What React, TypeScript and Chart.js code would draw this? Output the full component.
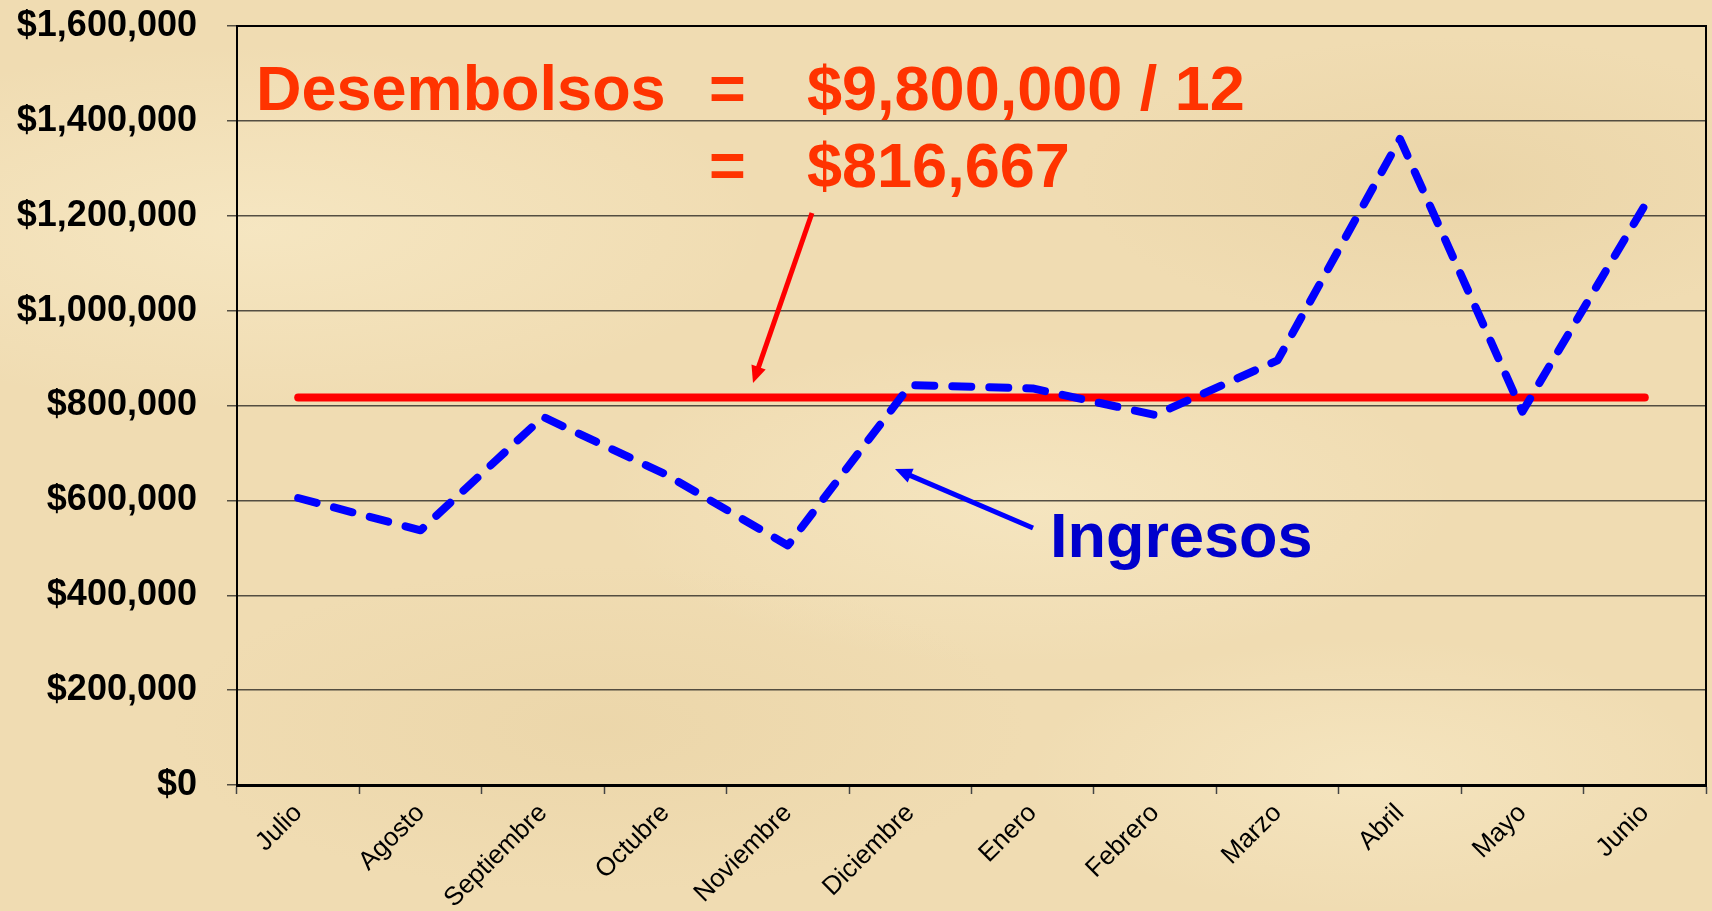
import React, { useEffect, useRef } from "react";
import { Chart, registerables } from "chart.js";

Chart.register(...registerables);

const MONTHS = [
  "Julio", "Agosto", "Septiembre", "Octubre", "Noviembre", "Diciembre",
  "Enero", "Febrero", "Marzo", "Abril", "Mayo", "Junio",
];
const INGRESOS = [
  605000, 537000, 776000, 655000, 505000, 843000,
  836000, 780000, 895000, 1362000, 787000, 1222000,
];
const DESEMBOLSOS = [
  816667, 816667, 816667, 816667, 816667, 816667,
  816667, 816667, 816667, 816667, 816667, 816667,
];
const Y_MIN = 0;
const Y_MAX = 1600000;
const Y_STEP = 200000;

const FONT = "'Liberation Sans', Arial, Helvetica, sans-serif";

const framePlugin = {
  id: "frame",
  beforeDatasetsDraw(chart: any) {
    const { ctx, chartArea } = chart;
    ctx.save();
    ctx.strokeStyle = "#000";
    ctx.lineWidth = 2;
    ctx.beginPath();
    ctx.moveTo(chartArea.left, chartArea.top);
    ctx.lineTo(chartArea.right, chartArea.top);
    ctx.lineTo(chartArea.right, chartArea.bottom);
    ctx.stroke();
    ctx.restore();
  },
};

function arrow(ctx: CanvasRenderingContext2D, x1: number, y1: number, x2: number, y2: number, color: string, w: number, headLen: number, headW: number) {
  const ang = Math.atan2(y2 - y1, x2 - x1);
  const bx = x2 - Math.cos(ang) * headLen;
  const by = y2 - Math.sin(ang) * headLen;
  ctx.save();
  ctx.strokeStyle = color;
  ctx.fillStyle = color;
  ctx.lineWidth = w;
  ctx.lineCap = "butt";
  ctx.beginPath();
  ctx.moveTo(x1, y1);
  ctx.lineTo(bx + Math.cos(ang) * 2, by + Math.sin(ang) * 2);
  ctx.stroke();
  ctx.beginPath();
  ctx.moveTo(x2, y2);
  ctx.lineTo(bx + Math.sin(ang) * headW / 2, by - Math.cos(ang) * headW / 2);
  ctx.lineTo(bx - Math.sin(ang) * headW / 2, by + Math.cos(ang) * headW / 2);
  ctx.closePath();
  ctx.fill();
  ctx.restore();
}

const annotationPlugin = {
  id: "annots",
  afterDatasetsDraw(chart: any) {
    const { ctx } = chart;
    ctx.save();
    ctx.font = `bold 63px ${FONT}`;
    ctx.textBaseline = "alphabetic";
    ctx.textAlign = "left";
    ctx.fillStyle = "#FF3300";
    ctx.fillText("Desembolsos", 256, 110);
    ctx.fillText("=", 709, 110);
    ctx.fillText("$9,800,000 / 12", 807, 110);
    ctx.fillText("=", 709, 187);
    ctx.fillText("$816,667", 807, 187);
    ctx.fillStyle = "#0000CC";
    ctx.fillText("Ingresos", 1050, 557);
    ctx.restore();
    arrow(ctx, 812, 213, 753, 383, "#FF0000", 5, 17, 15);
    arrow(ctx, 1033, 528, 895, 469, "#0000FF", 5, 17, 15);
  },
};

export default function App() {
  const ref = useRef<HTMLCanvasElement | null>(null);
  useEffect(() => {
    if (!ref.current) return;
    const chart = new Chart(ref.current, {
      type: "line",
      data: {
        labels: MONTHS,
        datasets: [
          {
            label: "Ingresos",
            data: INGRESOS,
            borderColor: "#0000FF",
            borderWidth: 8,
            borderDash: [19, 18],
            borderCapStyle: "round",
            borderJoinStyle: "round",
            pointRadius: 0,
            tension: 0,
            fill: false,
          },
          {
            label: "Desembolsos",
            data: DESEMBOLSOS,
            borderColor: "#FF0000",
            borderWidth: 8,
            borderCapStyle: "round",
            pointRadius: 0,
            tension: 0,
            fill: false,
          },
        ],
      },
      options: {
        responsive: false,
        animation: false,
        devicePixelRatio: 1,
        layout: { padding: { top: 26, right: 6, left: 0, bottom: 0 } },
        plugins: { legend: { display: false }, tooltip: { enabled: false } },
        scales: {
          x: {
            type: "category",
            offset: true,
            grid: {
              offset: true,
              drawOnChartArea: false,
              drawTicks: true,
              tickLength: 9,
              tickColor: "#444",
              tickWidth: 1.5,
            },
            border: { color: "#000", width: 3 },
            ticks: {
              autoSkip: false,
              minRotation: 45,
              maxRotation: 45,
              padding: 4,
              color: "#000",
              font: { family: FONT, size: 26 },
            },
            afterFit: (s: any) => { s.height = 126; s.paddingLeft = 0; s.paddingRight = 0; },
          },
          y: {
            min: Y_MIN,
            max: Y_MAX,
            grid: {
              color: "rgba(55,52,45,0.85)",
              lineWidth: 1.5,
              tickLength: 10,
              tickColor: "rgba(55,52,45,0.85)",
            },
            border: { color: "#000", width: 2 },
            ticks: {
              stepSize: Y_STEP,
              padding: 30,
              color: "#000",
              font: { family: FONT, size: 36, weight: "bold" },
              callback: (v: any) => "$" + Number(v).toLocaleString("en-US"),
            },
            afterFit: (s: any) => { s.width = 237; s.paddingTop = 0; s.paddingBottom = 0; },
          },
        },
      },
      plugins: [framePlugin, annotationPlugin],
    });
    return () => chart.destroy();
  }, []);

  return (
    <div
      style={{
        position: "absolute",
        left: 0,
        top: 0,
        width: 1712,
        height: 911,
        overflow: "hidden",
        backgroundColor: "#F0DCB2",
        backgroundImage:
          "radial-gradient(ellipse 30% 20% at 15% 25%, rgba(250,238,205,0.55), rgba(250,238,205,0) 100%)," +
          "radial-gradient(ellipse 25% 18% at 60% 55%, rgba(250,238,205,0.5), rgba(250,238,205,0) 100%)," +
          "radial-gradient(ellipse 22% 16% at 85% 20%, rgba(225,200,150,0.35), rgba(225,200,150,0) 100%)," +
          "radial-gradient(ellipse 25% 18% at 35% 80%, rgba(228,204,155,0.35), rgba(228,204,155,0) 100%)," +
          "radial-gradient(ellipse 20% 15% at 80% 85%, rgba(250,238,205,0.45), rgba(250,238,205,0) 100%)",
      }}
    >
      <canvas ref={ref} width={1712} height={911} style={{ display: "block", width: 1712, height: 911 }} />
    </div>
  );
}
